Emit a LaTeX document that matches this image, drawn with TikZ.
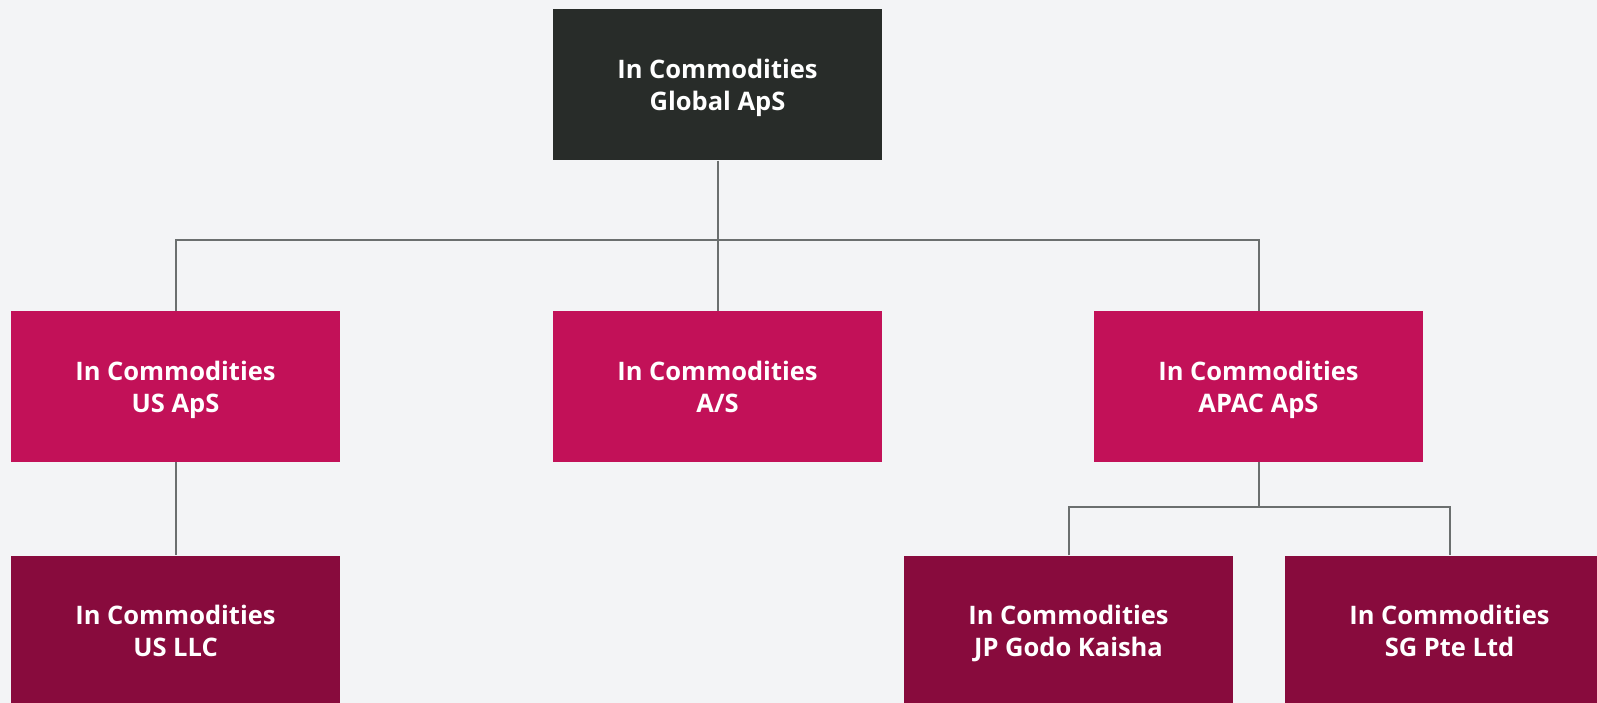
\documentclass[tikz,border=0pt]{standalone}
\usepackage{fontspec}
\setmainfont{Open Sans}
\usetikzlibrary{positioning}

\definecolor{bgcol}{HTML}{F3F4F6}
\definecolor{topcol}{HTML}{282C29}
\definecolor{midcol}{HTML}{C21158}
\definecolor{lowcol}{HTML}{880B3D}
\definecolor{linecol}{HTML}{6B6F6F}

\begin{document}
\begin{tikzpicture}[x=1pt,y=-1pt,on grid,node distance=241pt]
  \tikzstyle{entity}=[rectangle,minimum width=329pt,minimum height=151pt,text=white,align=center,
    font=\fontsize{25.5}{32}\selectfont\bfseries,text depth=0pt]
  \tikzstyle{nodeG}=[entity,fill=topcol]
  \tikzstyle{nodeM}=[entity,fill=midcol]
  \tikzstyle{nodeL}=[entity,fill=lowcol]
  \tikzstyle{link}=[draw=linecol,line width=2pt]

  \useasboundingbox[fill=bgcol] (0,0) rectangle (1597,703);

  \node[nodeG] (global) at (717.5,85) {In Commodities\\Global ApS};
  \node[nodeM] (as)    [below=301.5pt of global] {In Commodities\\A/S};
  \node[nodeM] (usaps) [left=542pt of as]  {In Commodities\\US ApS};
  \node[nodeM] (apac)  [right=541pt of as] {In Commodities\\APAC ApS};
  \node[nodeL] (usllc) [below=244.5pt of usaps] {In Commodities\\US LLC};
  \node[nodeL] (jp)    [below left=244.5pt and 190pt of apac]  {In Commodities\\JP Godo Kaisha};
  \node[nodeL] (sg)    [below right=244.5pt and 191pt of apac] {In Commodities\\SG Pte Ltd};

  \path (global.south) ++(0,79) coordinate (bus);
  \path (apac.south) ++(0,45) coordinate (split);

  \draw[link] (global) -- (as);
  \draw[link] (usaps.north) |- (bus) -| (apac.north);
  \draw[link] (usaps) -- (usllc);
  \draw[link] (apac.south) -- (split);
  \draw[link] (jp.north) |- (split) -| (sg.north);
\end{tikzpicture}
\end{document}
